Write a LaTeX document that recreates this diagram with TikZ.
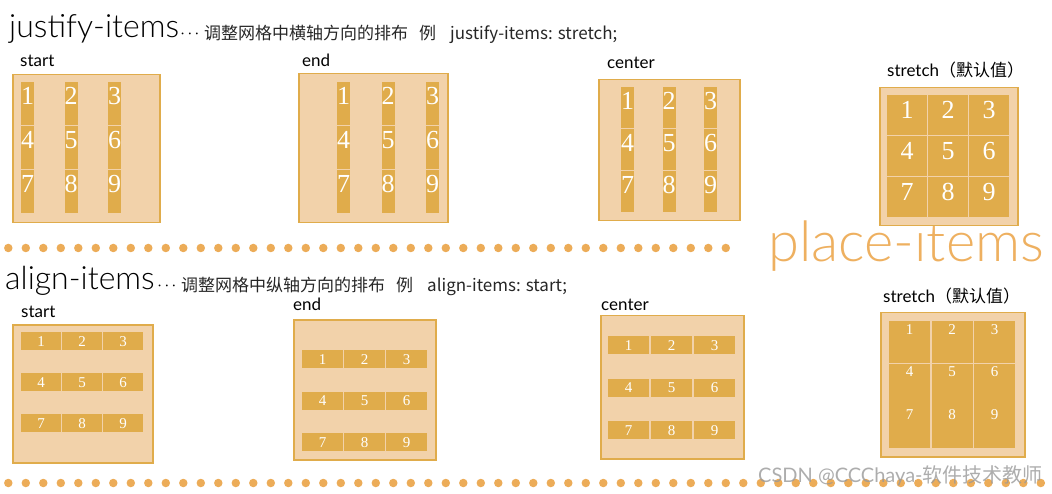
\documentclass[tikz,border=0pt]{standalone}
\usepackage{fontspec}
\usepackage{xcolor}
\usepackage{tikz}
\setmainfont{Lato}
\newfontfamily\thinfont{Lato Light}
\newfontfamily\cjk{Noto Sans CJK SC}
\newfontfamily\numfont{Liberation Serif}
\definecolor{itemgold}{RGB}{224,172,75}
\definecolor{boxpeach}{RGB}{242,210,170}
\definecolor{dotorange}{RGB}{236,172,88}
\definecolor{placeorange}{RGB}{238,176,96}

\begin{document}
\begin{tikzpicture}[x=1pt, y=-1pt, font=\fontsize{17}{20}\selectfont,
    gridbox/.style={draw=itemgold, line width=1.5pt, fill=boxpeach, anchor=north west, inner sep=0pt},
    cell/.style={fill=itemgold, anchor=north west, inner sep=0pt, text=white},
    bignum/.style={font=\numfont\fontsize{26}{26}\selectfont},
    smallnum/.style={font=\numfont\fontsize{15}{15}\selectfont},
    toplabel/.style={anchor=north, inner sep=0pt, text=white},
    caption/.style={anchor=base west, inner sep=0pt},
    desc/.style={caption, text=black!85, font=\cjk\fontsize{17}{17}\selectfont},
    dot/.style={circle, fill=dotorange, inner sep=0pt, minimum size=8.5pt}]
  \useasboundingbox (0,0) rectangle (1052,494);

  % titles
  \node[caption, font=\thinfont\fontsize{32}{32}\selectfont] (jtitle) at (9,38) {justify-items};
  \node[caption, font=\fontsize{12}{12}\selectfont] (jdots) at (181,38) {·\hspace{4pt}·\hspace{4pt}·};
  \node[desc] (jdesc) at (204,40) {调整网格中横轴方向的排布\hspace{11pt}例\hspace{14pt}justify-items: stretch;};
  \node[caption, font=\thinfont\fontsize{32}{32}\selectfont] (atitle) at (5,290) {align-items};
  \node[caption, font=\fontsize{12}{12}\selectfont] (adots) at (158,290) {·\hspace{4pt}·\hspace{4pt}·};
  \node[desc] (adesc) at (181,291) {调整网格中纵轴方向的排布\hspace{11pt}例\hspace{14pt}align-items: start;};
  \node[caption, text=placeorange, font=\thinfont\fontsize{56}{56}\selectfont] (ptitle) at (768,262) {place-items};

  % dotted rules
  \foreach \i in {0,...,41}
    \node[dot] (tdot\i) at ({8.3+17.5*\i},248) {};
  \foreach \i in {0,...,59}
    \node[dot] (bdot\i) at ({8.3+17.5*\i},483) {};

  % justify-items: start
  \node[caption] (jslbl) at (20,67) {start};
  \node[gridbox, minimum width=147, minimum height=148] (jsbox) at (12,74) {};
  \foreach \r in {0,1,2}
    \foreach \c in {0,1,2} {
      \pgfmathtruncatemacro\n{3*\r+\c+1}
      \node[cell, minimum width=13, minimum height=43] (js\n) at ({21+43.5*\c},{82+44*\r}) {};
      \node[toplabel, bignum] (jsn\n) at ([yshift=-5pt]js\n.north) {\n};
    }

  % justify-items: end
  \node[caption] (jelbl) at (302,67) {end};
  \node[gridbox, minimum width=149, minimum height=149] (jebox) at (298,73) {};
  \foreach \r in {0,1,2}
    \foreach \c in {0,1,2} {
      \pgfmathtruncatemacro\n{3*\r+\c+1}
      \node[cell, minimum width=13, minimum height=43] (je\n) at ({337+44.5*\c},{82+44*\r}) {};
      \node[toplabel, bignum] (jen\n) at ([yshift=-5pt]je\n.north) {\n};
    }

  % justify-items: center
  \node[caption] (jclbl) at (607,69) {center};
  \node[gridbox, minimum width=141, minimum height=141] (jcbox) at (598,79) {};
  \foreach \r in {0,1,2}
    \foreach \c in {0,1,2} {
      \pgfmathtruncatemacro\n{3*\r+\c+1}
      \node[cell, minimum width=13, minimum height=41] (jc\n) at ({621+41.5*\c},{87+42*\r}) {};
      \node[toplabel, bignum] (jcn\n) at ([yshift=-5pt]jc\n.north) {\n};
    }

  % justify-items: stretch
  \node[caption] (jtlbl) at (887,77) {stretch{\cjk （默认值）}};
  \node[gridbox, minimum width=138, minimum height=138] (jtbox) at (879,87) {};
  \foreach \r in {0,1,2}
    \foreach \c in {0,1,2} {
      \pgfmathtruncatemacro\n{3*\r+\c+1}
      \node[cell, minimum width=40, minimum height=40] (jt\n) at ({887+41*\c},{95+41*\r}) {};
      \node[toplabel, bignum] (jtn\n) at ([yshift=-6pt]jt\n.north) {\n};
    }

  % align-items: start
  \node[caption] (aslbl) at (21,318) {start};
  \node[gridbox, minimum width=140, minimum height=138] (asbox) at (12,324) {};
  \foreach \r in {0,1,2}
    \foreach \c in {0,1,2} {
      \pgfmathtruncatemacro\n{3*\r+\c+1}
      \node[cell, smallnum, minimum width=40, minimum height=18] (as\n) at ({21+41*\c},{332+41*\r}) {\n};
    }

  % align-items: end
  \node[caption] (aelbl) at (293,311) {end};
  \node[gridbox, minimum width=142, minimum height=140] (aebox) at (293,319) {};
  \foreach \r in {0,1,2}
    \foreach \c in {0,1,2} {
      \pgfmathtruncatemacro\n{3*\r+\c+1}
      \node[cell, smallnum, minimum width=41, minimum height=18] (ae\n) at ({302+42*\c},{350+41.5*\r}) {\n};
    }

  % align-items: center
  \node[caption] (aclbl) at (601,311) {center};
  \node[gridbox, minimum width=143, minimum height=143] (acbox) at (600,315) {};
  \foreach \r in {0,1,2}
    \foreach \c in {0,1,2} {
      \pgfmathtruncatemacro\n{3*\r+\c+1}
      \node[cell, smallnum, minimum width=41, minimum height=18] (ac\n) at ({608+43*\c},{336+42.5*\r}) {\n};
    }

  % align-items: stretch
  \node[caption] (atlbl) at (883,302) {stretch{\cjk （默认值）}};
  \node[gridbox, minimum width=144, minimum height=144] (atbox) at (880,312) {};
  \foreach \r in {0,1,2}
    \foreach \c in {0,1,2} {
      \pgfmathtruncatemacro\n{3*\r+\c+1}
      \node[cell, minimum width=41, minimum height=42] (at\n) at ({889+42.5*\c},{321+42.5*\r}) {};
      \node[toplabel, smallnum] (atn\n) at ([yshift=-3pt]at\n.north) {\n};
    }

  % watermark
  \node[caption, text=black!40, opacity=0.8, font=\fontsize{20}{20}\selectfont] (wmark) at (758,482) {CSDN @CCChaya-{\cjk 软件技术教师}};
\end{tikzpicture}
\end{document}
